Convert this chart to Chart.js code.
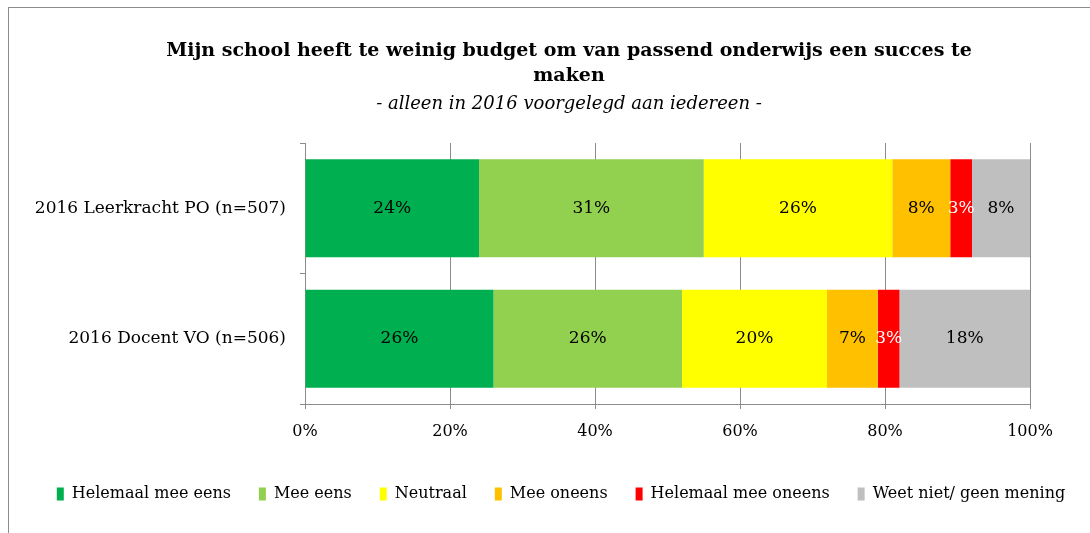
<!DOCTYPE html>
<html>
<head>
<meta charset="utf-8">
<script src="https://cdn.jsdelivr.net/npm/chart.js@4/dist/chart.umd.min.js"></script>
<style>
  html, body { margin: 0; padding: 0; background: #fff; overflow: hidden; }
  #kader { position: absolute; left: 8px; top: 7px; width: 1120px; height: 540px; border: 1px solid #8c8c8c; }
  #grafiek { display: block; }
</style>
</head>
<body>
<div id="kader"><canvas id="grafiek" width="1120" height="526"></canvas></div>
<script>
// -------------------- Data --------------------
const categorieen = ['2016 Leerkracht PO (n=507)', '2016 Docent VO (n=506)'];
const helemaalMeeEens = [24, 26];
const meeEens = [31, 26];
const neutraal = [26, 20];
const meeOneens = [8, 7];
const helemaalMeeOneens = [3, 3];
const weetNiet = [8, 18];
const xTicks = [0, 20, 40, 60, 80, 100];

const titel = ['Mijn school heeft te weinig budget om van passend onderwijs een succes te', 'maken'];
const subtitel = '- alleen in 2016 voorgelegd aan iedereen -';

const lettertype = "'DejaVu Serif', 'Liberation Serif', serif";

// Percentages midden in elk segment
const labelsPlugin = {
  id: 'segmentLabels',
  afterDatasetsDraw(chart) {
    const ctx = chart.ctx;
    ctx.save();
    ctx.font = `17px ${lettertype}`;
    ctx.textAlign = 'center';
    ctx.textBaseline = 'middle';
    chart.data.datasets.forEach((ds, i) => {
      const meta = chart.getDatasetMeta(i);
      meta.data.forEach((bar, j) => {
        const p = bar.getCenterPoint();
        ctx.fillStyle = ds.labelKleur || '#000';
        ctx.fillText(ds.data[j] + '%', p.x, p.y);
      });
    });
    ctx.restore();
  }
};

// Legenda iets naar links, zoals in het origineel
const legendaPlugin = {
  id: 'legendaVerschuiving',
  afterLayout(chart) {
    chart.legend.left -= 8;
    chart.legend.right -= 8;
  }
};

new Chart(document.getElementById('grafiek'), {
  type: 'bar',
  data: {
    labels: categorieen,
    datasets: [
      { label: 'Helemaal mee eens', data: helemaalMeeEens, backgroundColor: '#00b050' },
      { label: 'Mee eens', data: meeEens, backgroundColor: '#92d050' },
      { label: 'Neutraal', data: neutraal, backgroundColor: '#ffff00' },
      { label: 'Mee oneens', data: meeOneens, backgroundColor: '#ffc000' },
      { label: 'Helemaal mee oneens', data: helemaalMeeOneens, backgroundColor: '#ff0000', labelKleur: '#fff' },
      { label: 'Weet niet/ geen mening', data: weetNiet, backgroundColor: '#bfbfbf' }
    ]
  },
  options: {
    indexAxis: 'y',
    responsive: false,
    animation: false,
    categoryPercentage: 0.75,
    barPercentage: 1,
    layout: { padding: { top: 31, left: 0, right: 0, bottom: 22 } },
    scales: {
      x: {
        stacked: true,
        min: 0,
        max: 100,
        afterBuildTicks: (ax) => { ax.ticks = xTicks.map(v => ({ value: v })); },
        afterFit: (ax) => { ax.height = ax.height + 3; },
        ticks: { callback: v => v + '%', color: '#000', font: { family: lettertype, size: 16, lineHeight: '20px' }, padding: 13, maxRotation: 0 },
        grid: { color: '#8c8c8c', tickLength: 5, drawOnChartArea: true },
        border: { color: '#8c8c8c' }
      },
      y: {
        stacked: true,
        afterFit: (ax) => { ax.width = 296; },
        ticks: { color: '#000', font: { family: lettertype, size: 17 }, padding: 14 },
        grid: { drawOnChartArea: false, tickLength: 5, color: '#8c8c8c', offset: true },
        border: { color: '#8c8c8c' }
      },
      // lege ruimte rechts van het plotvlak
      rechts: {
        type: 'category',
        position: 'right',
        afterFit: (ax) => { ax.width = 99; },
        ticks: { display: false },
        grid: { display: false },
        border: { display: false }
      }
    },
    plugins: {
      title: {
        display: true,
        text: titel,
        color: '#000',
        font: { family: lettertype, size: 19, weight: 'bold', lineHeight: '25px' },
        padding: { top: 0, bottom: 0 }
      },
      subtitle: {
        display: true,
        text: subtitel,
        color: '#000',
        font: { family: lettertype, size: 18, style: 'italic', lineHeight: '20px' },
        padding: { top: 5, bottom: 29 }
      },
      legend: {
        position: 'bottom',
        labels: {
          color: '#000',
          boxWidth: 7,
          boxHeight: 13,
          padding: 28,
          font: { family: lettertype, size: 16 }
        }
      },
      tooltip: { enabled: false }
    }
  },
  plugins: [labelsPlugin, legendaPlugin]
});
</script>
</body>
</html>
